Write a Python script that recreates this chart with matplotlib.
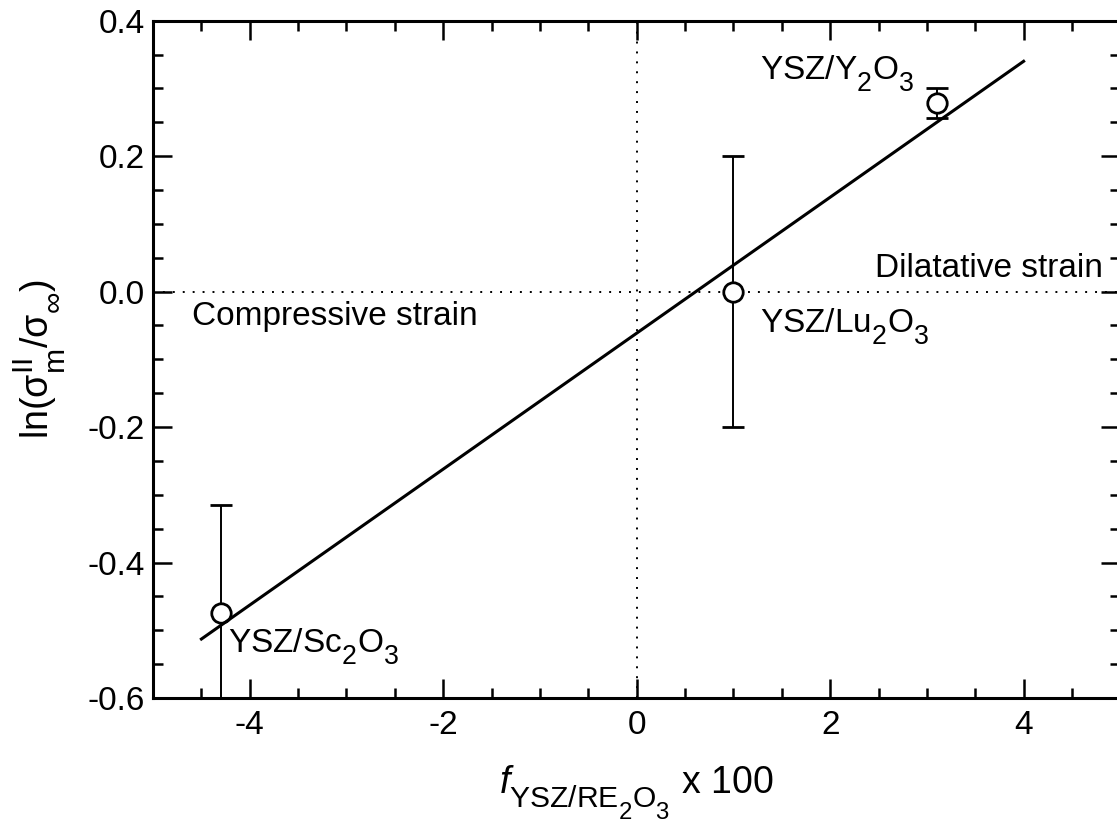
import numpy as np
import matplotlib
matplotlib.use("Agg")
import matplotlib.pyplot as plt
from matplotlib import _mathtext
from matplotlib.ticker import MultipleLocator

plt.rcParams["font.family"] = ["Liberation Sans", "DejaVu Sans"]
plt.rcParams["mathtext.fontset"] = "custom"
plt.rcParams["mathtext.rm"] = "Liberation Sans"
plt.rcParams["mathtext.it"] = "Liberation Sans:italic"
plt.rcParams["mathtext.bf"] = "Liberation Sans:bold"

# subscripts in the original sit lower and are a bit larger
_mathtext.SHRINK_FACTOR = 0.8
_mathtext.FontConstantsBase.sub1 = 0.7
_mathtext.FontConstantsBase.sub2 = 0.8

# Data
SYSTEMS = ["YSZ/Sc$_2$O$_3$", "YSZ/Lu$_2$O$_3$", "YSZ/Y$_2$O$_3$"]
MISFIT = [-4.3, 1.0, 3.1]          # f x 100
LN_SIGMA = [-0.475, 0.0, 0.279]    # ln(sigma_m / sigma_inf)
LN_SIGMA_ERR = [0.16, 0.2, 0.022]

# Linear fit end points
FIT_X = [-4.5, 4.0]
FIT_Y = [-0.513, 0.34]

fig = plt.figure(figsize=(11.17, 8.26), dpi=100)
ax = fig.add_axes([0.137, 0.155, 0.866, 0.820])

# Reference lines at zero
ax.axhline(0, color="black", lw=1.4, linestyle=(0, (1, 4.1)), zorder=1)
ax.axvline(0, color="black", lw=1.4, linestyle=(0, (1, 4.1)), zorder=1)

ax.errorbar(
    MISFIT,
    LN_SIGMA,
    yerr=LN_SIGMA_ERR,
    fmt="o",
    color="black",
    mfc="white",
    mec="black",
    ms=14,
    mew=2,
    elinewidth=1.4,
    capsize=8,
    capthick=1.8,
    zorder=3,
)

ax.plot(FIT_X, FIT_Y, color="black", lw=2.2, zorder=4)

# Point labels
ax.text(-4.22, -0.532, SYSTEMS[0], fontsize=24)
ax.text(1.27, -0.060, SYSTEMS[1], fontsize=24)
ax.text(2.87, 0.313, SYSTEMS[2], fontsize=24, ha="right")

ax.text(-4.60, -0.050, "Compressive strain", fontsize=24)
ax.text(4.82, 0.022, "Dilatative strain", fontsize=24, ha="right")

ax.set_xlim(-5, 5)
ax.set_ylim(-0.6, 0.4)
ax.xaxis.set_major_locator(MultipleLocator(2))
ax.xaxis.set_minor_locator(MultipleLocator(0.5))
ax.yaxis.set_major_locator(MultipleLocator(0.2))
ax.yaxis.set_minor_locator(MultipleLocator(0.05))
ax.xaxis.set_major_formatter(plt.FuncFormatter(lambda v, p: "{:g}".format(v)))
ax.yaxis.set_major_formatter(plt.FuncFormatter(lambda v, p: "{:.1f}".format(v + 0.0)))

ax.tick_params(which="both", direction="in", top=True, right=True, width=1.8, labelsize=24)
ax.tick_params(which="major", length=14)
ax.tick_params(which="minor", length=7.5)
ax.tick_params(axis="x", pad=9)
ax.tick_params(axis="y", pad=6)

for spine in ax.spines.values():
    spine.set_linewidth(2.2)

ax.set_xlabel(r"$f_{\mathrm{YSZ/RE_2O_3}}$ x 100", fontsize=27, labelpad=16)
ax.set_ylabel(r"ln(σ$_{\mathrm{m}}^{\mathrm{II}}$/σ$_{\infty}$)", fontsize=27, labelpad=14)

fig.savefig("out.png", dpi=100)
